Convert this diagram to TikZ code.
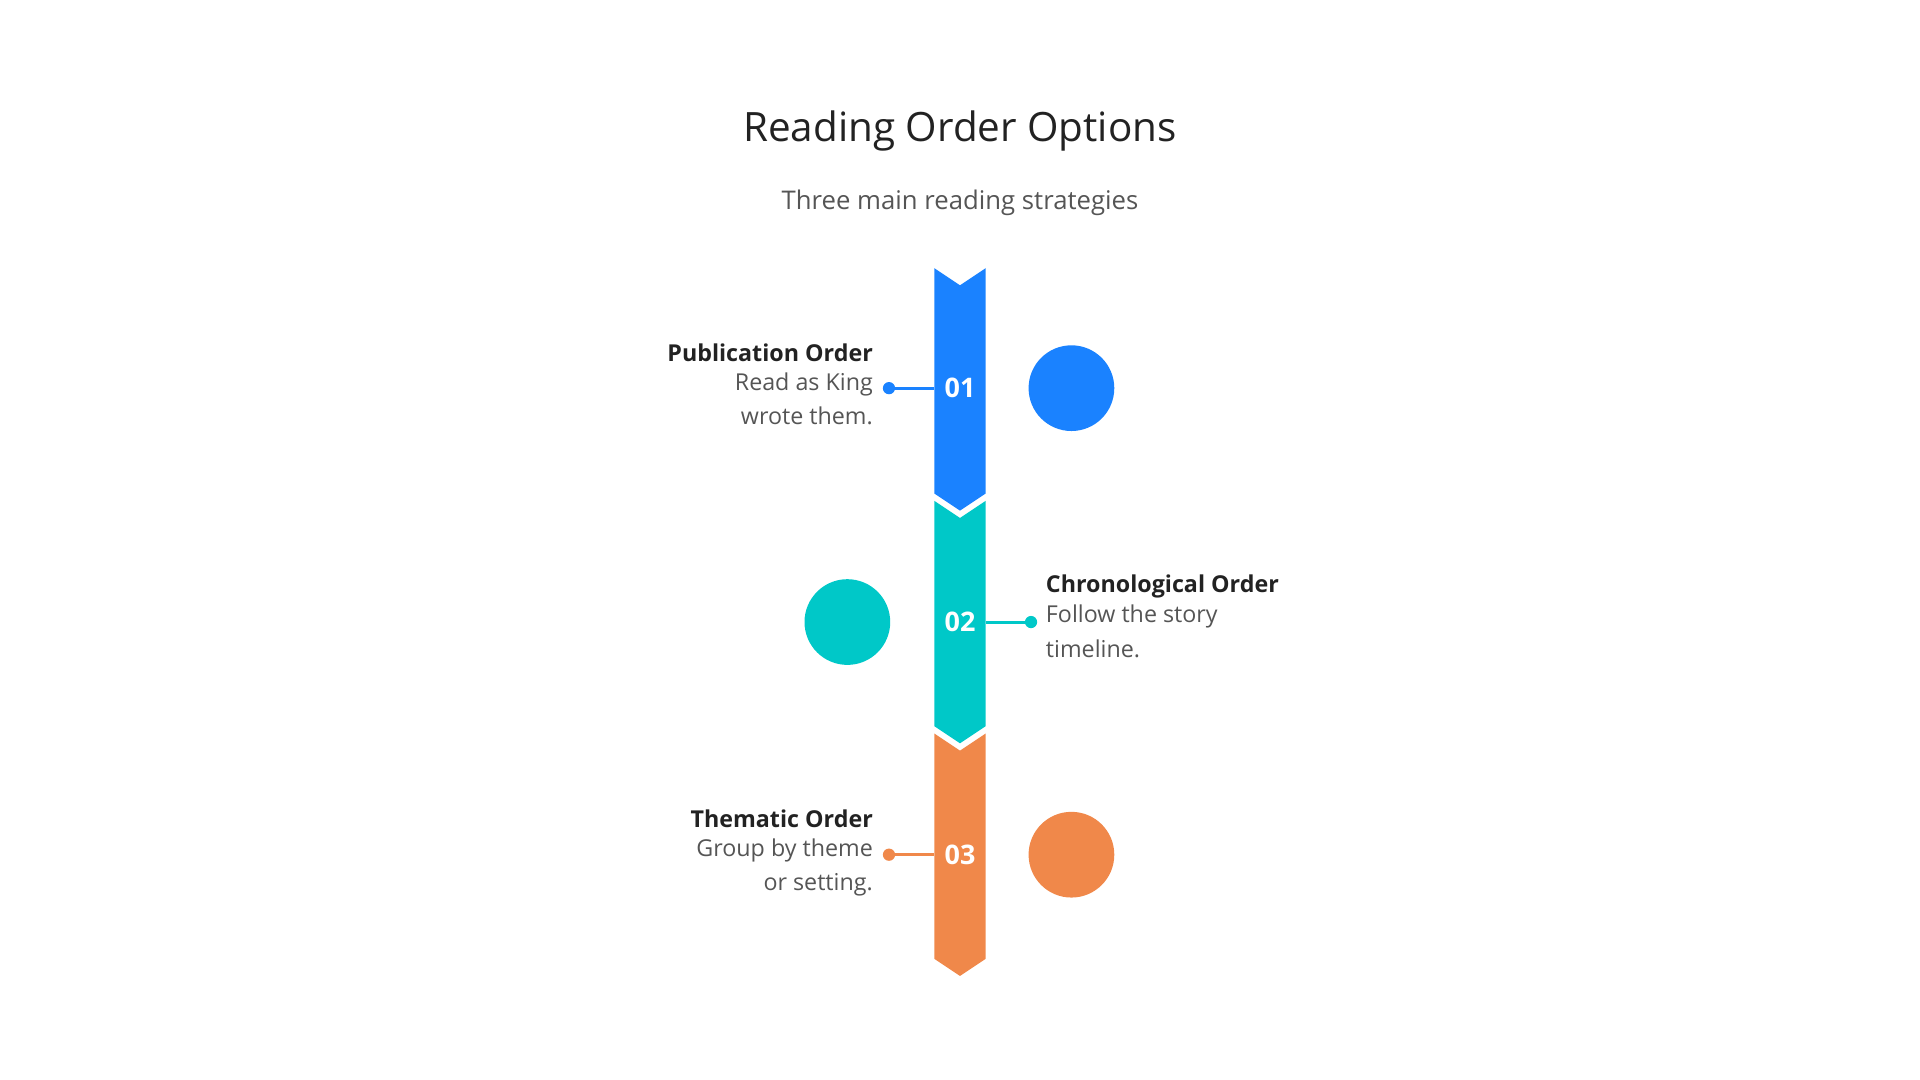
\documentclass[tikz,border=0pt]{standalone}
\usepackage{fontspec}
\setmainfont{Open Sans}
\definecolor{cblue}{HTML}{1A82FF}
\definecolor{cteal}{HTML}{00C8C8}
\definecolor{corange}{HTML}{F0884A}
\definecolor{tdark}{HTML}{222222}
\definecolor{tgray}{HTML}{555555}
\begin{document}
\begin{tikzpicture}[x=1pt,y=-1pt,
  head/.style={font=\fontsize{19}{22}\selectfont\bfseries,text=tdark,inner sep=0},
  desc/.style={font=\fontsize{19}{28}\selectfont,text=tgray,inner sep=0},
  num/.style={font=\fontsize{22}{24}\selectfont\bfseries,text=white,inner sep=0}]
\useasboundingbox (0,0) rectangle (1568,882);
\node[font=\fontsize{33}{38}\selectfont,text=tdark] (title) at (784,107) {Reading Order Options};
\node[font=\fontsize{21}{26}\selectfont,text=tgray] (sub) at (784,166) {Three main reading strategies};
\foreach \c/\t/\n in {cblue/219/1,cteal/409/2,corange/599/3}{
  \fill[\c] (763,\t) -- (784,\t+14) -- (805,\t) -- (805,\t+184) -- (784,\t+198) -- (763,\t+184) -- cycle;
}
\node[num] (n1) at (784,317) {01};
\node[num] (n2) at (784,508) {02};
\node[num] (n3) at (784,698) {03};
\fill[cblue] (875,317) circle (35);
\fill[cteal] (692,508) circle (35);
\fill[corange] (875,698) circle (35);
\coordinate (s1) at (763,317);
\coordinate (d1) at (726,317);
\draw[cblue,line width=2.5] (s1) -- (d1); \fill[cblue] (d1) circle (5);
\coordinate (s2) at (805,508);
\coordinate (d2) at (842,508);
\draw[cteal,line width=2.5] (s2) -- (d2); \fill[cteal] (d2) circle (5);
\coordinate (s3) at (763,698);
\coordinate (d3) at (726,698);
\draw[corange,line width=2.5] (s3) -- (d3); \fill[corange] (d3) circle (5);
\node[head,anchor=east] (h1) at (713,288) {Publication Order};
\node[desc,anchor=north east,align=right] (t1) at (713,304) {Read as King\\wrote them.};
\node[head,anchor=west] (h2) at (854,479) {Chronological Order};
\node[desc,anchor=north west,align=left] (t2) at (854,494) {Follow the story\\timeline.};
\node[head,anchor=east] (h3) at (713,669) {Thematic Order};
\node[desc,anchor=north east,align=right] (t3) at (713,685) {Group by theme\\or setting.};
\end{tikzpicture}
\end{document}
